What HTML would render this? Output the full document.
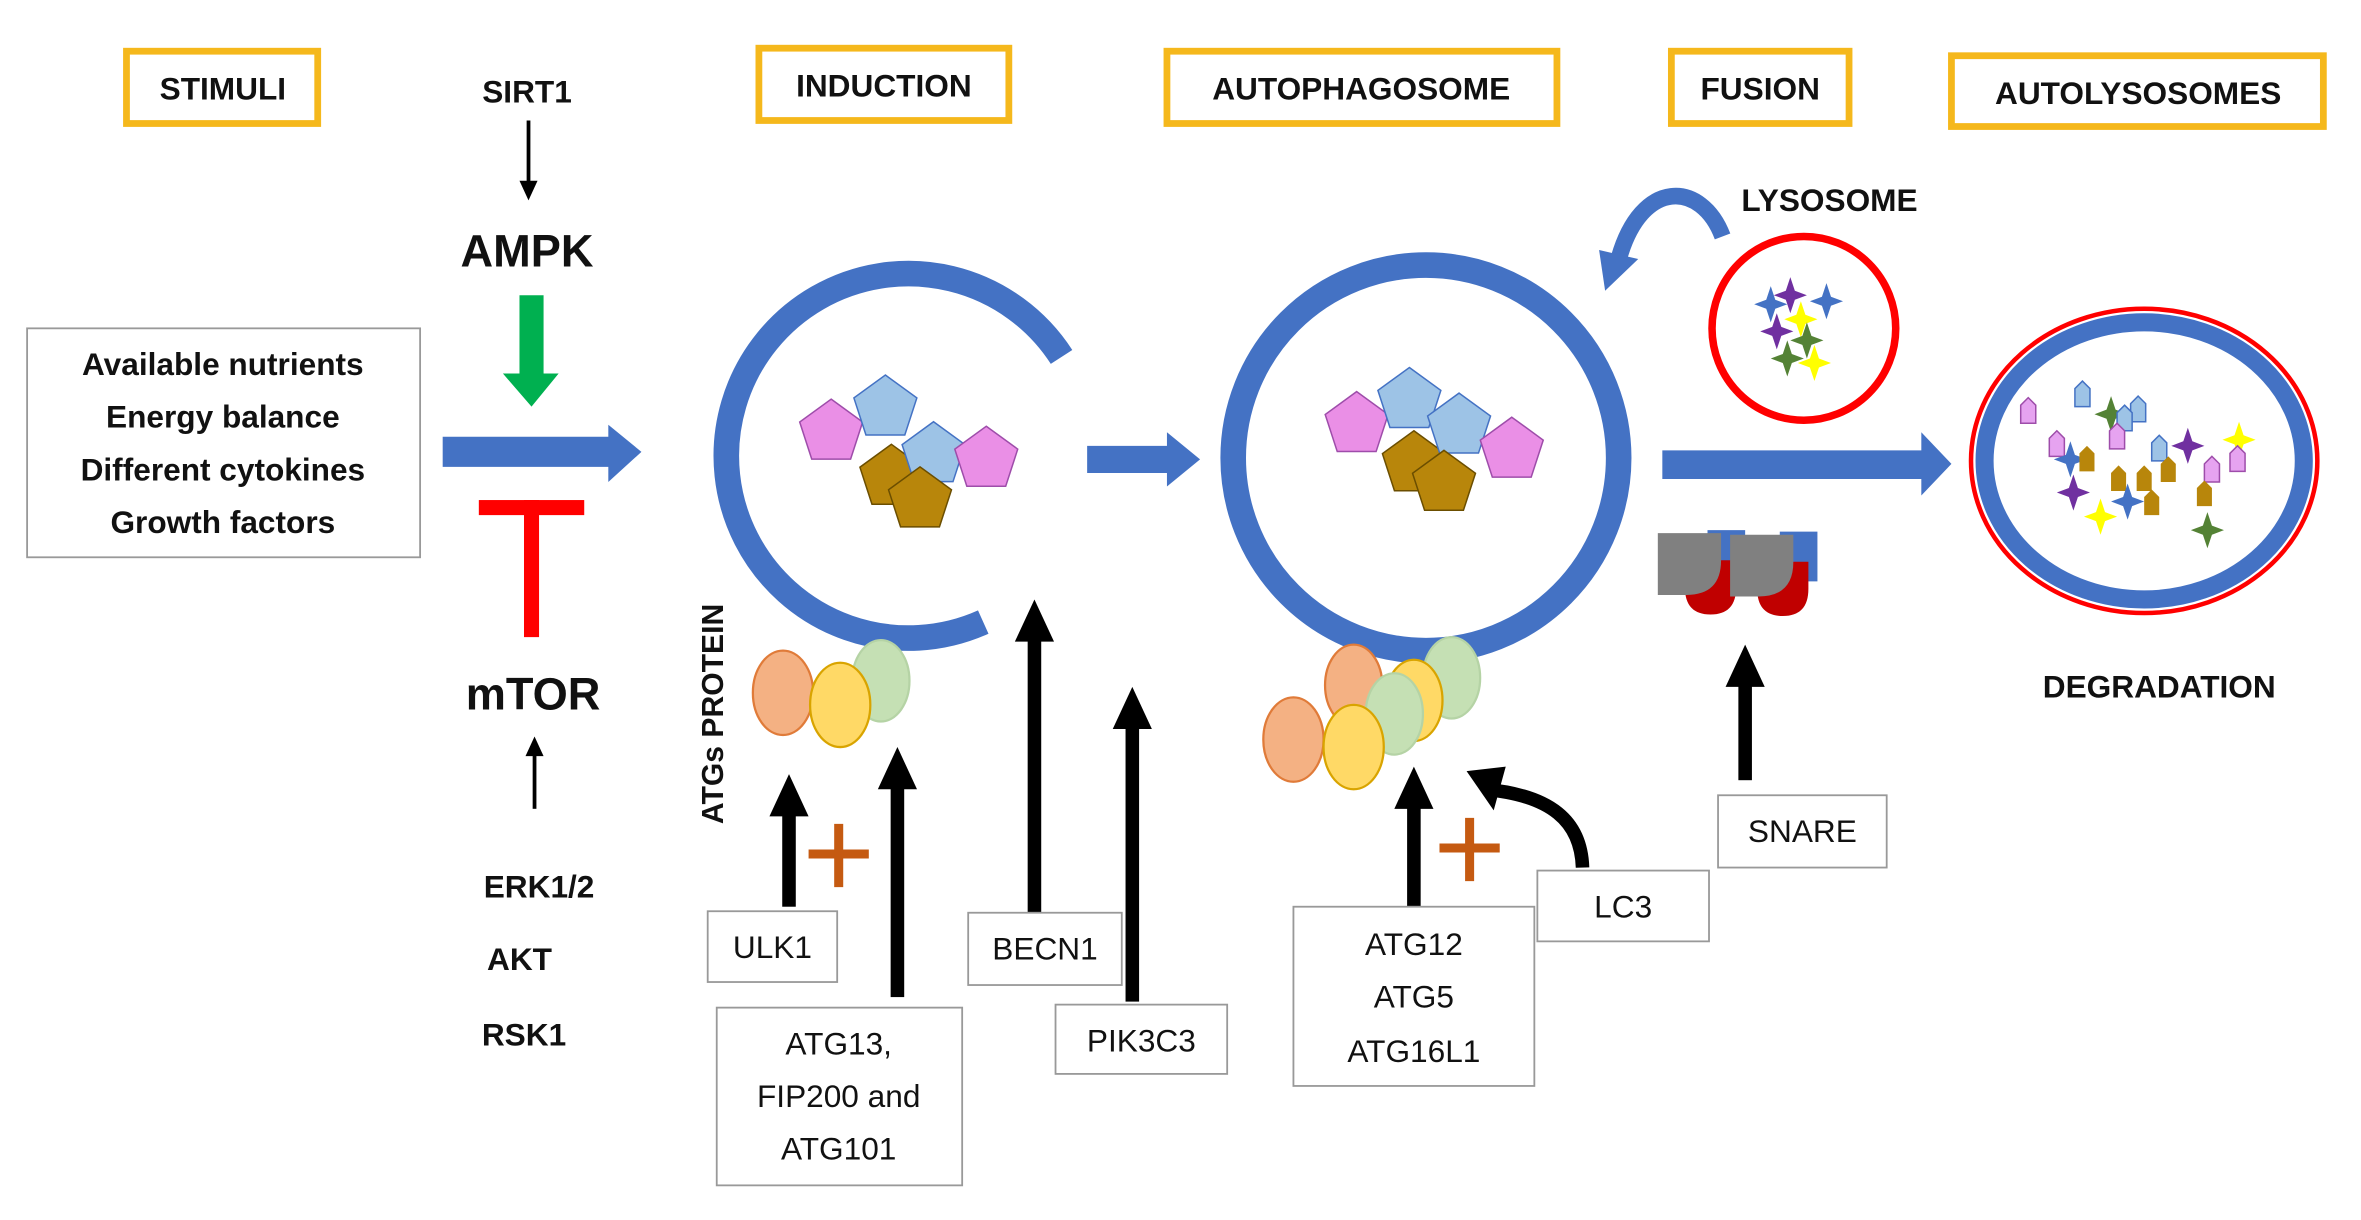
<!DOCTYPE html>
<html><head><meta charset="utf-8"><style>
html,body{margin:0;padding:0;background:#fff;}
svg{display:block;}
text{font-family:"Liberation Sans","DejaVu Sans",sans-serif;}
.b{font-weight:bold;}
</style></head><body>
<svg width="2361" height="1220" viewBox="0 0 1568 810" preserveAspectRatio="none" xmlns="http://www.w3.org/2000/svg">
<defs>
<polygon id="pg" points="0,-22 20.9,-6.8 12.9,17.8 -12.9,17.8 -20.9,-6.8" stroke-width="1"/>
<path id="st" d="M0,-12 L3,-3 L11,0 L3,3 L0,12 L-3,3 L-11,0 L-3,-3Z"/>
<path id="hs" d="M0,-9 L5,-4 L5,8 L-5,8 L-5,-4Z" stroke-width="1"/>
<g id="sn">
<path d="M1134,352 H1159 V385 H1148 Q1134,385 1134,365 Z" fill="#4472C4"/>
<path d="M1119,372 H1153 V390 Q1153,408 1136,408 Q1119,408 1119,390 Z" fill="#C00000"/>
<path d="M1101,354 H1143 V372 Q1143,395 1120,395 H1101 Z" fill="#808080"/>
</g>
</defs>
<rect width="1568" height="810" fill="#fff"/>

<g fill="none" stroke="#F5B81C" stroke-width="4.5">
<rect x="84" y="34" width="127" height="48"/>
<rect x="504" y="32" width="166" height="48"/>
<rect x="775" y="34" width="259" height="48"/>
<rect x="1110" y="34" width="118" height="48"/>
<rect x="1296" y="37" width="247" height="47"/>
</g>
<g class="b" font-size="21" text-anchor="middle" fill="#111">
<text x="148" y="66" class="b">STIMULI</text>
<text x="587" y="64" class="b">INDUCTION</text>
<text x="904" y="66" class="b">AUTOPHAGOSOME</text>
<text x="1169" y="66" class="b">FUSION</text>
<text x="1420" y="69" class="b">AUTOLYSOSOMES</text>
<text x="350" y="68" class="b">SIRT1</text>
<text x="350" y="177" class="b" font-size="30">AMPK</text>
<text x="354" y="471" class="b" font-size="30">mTOR</text>
<text x="358" y="596" class="b">ERK1/2</text>
<text x="345" y="644" class="b">AKT</text>
<text x="348" y="694" class="b">RSK1</text>
<text x="1215" y="140" class="b">LYSOSOME</text>
<text x="1434" y="463" class="b">DEGRADATION</text>
</g>

<line x1="351" y1="80" x2="351" y2="124" stroke="#000" stroke-width="2.5"/>
<polygon points="345,120 357,120 351,133" fill="#000"/>
<polygon points="345,196 361,196 361,248 371,248 353,270 334,248 345,248" fill="#00B050"/>
<polygon points="294,290 404,290 404,282 426,300 404,320 404,310 294,310" fill="#4472C4"/>
<rect x="318" y="332" width="70" height="10" fill="#FF0000"/>
<rect x="348" y="332" width="10" height="91" fill="#FF0000"/>
<line x1="355" y1="537" x2="355" y2="498" stroke="#000" stroke-width="2.5"/>
<polygon points="349,502 361,502 355,489" fill="#000"/>

<rect x="18" y="218" width="261" height="152" fill="#fff" stroke="#999" stroke-width="1.2"/>
<g class="b" font-size="21" text-anchor="middle" fill="#111">
<text x="148" y="249" class="b">Available nutrients</text>
<text x="148" y="284" class="b">Energy balance</text>
<text x="148" y="319" class="b">Different cytokines</text>
<text x="148" y="354" class="b">Growth factors</text>
</g>

<path d="M705,237 A121,121 0 1 0 653,413" fill="none" stroke="#4472C4" stroke-width="17"/>
<g stroke-width="1">
<use href="#pg" x="552" y="287" fill="#EA8FE6" stroke="#9E4DAA"/>
<use href="#pg" x="588" y="271" fill="#9DC3E6" stroke="#4472C4"/>
<use href="#pg" x="592" y="317" fill="#B8860B" stroke="#6b4e00"/>
<use href="#pg" x="620" y="302" fill="#9DC3E6" stroke="#4472C4"/>
<use href="#pg" x="611" y="332" fill="#B8860B" stroke="#6b4e00"/>
<use href="#pg" x="655" y="305" fill="#EA8FE6" stroke="#9E4DAA"/>
</g>
<polygon points="722,296 775,296 775,287 797,305 775,323 775,314 722,314" fill="#4472C4"/>

<text transform="translate(480,474) rotate(-90)" text-anchor="middle" font-size="20" class="b" fill="#111">ATGs PROTEIN</text>
<ellipse cx="585" cy="452" rx="19" ry="27" fill="#C5E0B4" stroke="#B5D3A5" stroke-width="1.5"/>
<ellipse cx="520" cy="460" rx="20" ry="28" fill="#F4B183" stroke="#E07B39" stroke-width="1.5"/>
<ellipse cx="558" cy="468" rx="20" ry="28" fill="#FFD966" stroke="#D9A400" stroke-width="1.5"/>

<g fill="#000">
<rect x="519.5" y="540" width="9" height="62"/><polygon points="511,542 537,542 524,514"/>
<rect x="591.5" y="522" width="9" height="140"/><polygon points="583,524 609,524 596,496"/>
<rect x="682.5" y="424" width="9" height="182"/><polygon points="674,426 700,426 687,398"/>
<rect x="747.5" y="482" width="9" height="183"/><polygon points="739,484 765,484 752,456"/>
<rect x="934.5" y="535" width="9" height="67"/><polygon points="926,537 952,537 939,509"/>
<rect x="1154.5" y="454" width="9" height="64"/><polygon points="1146,456 1172,456 1159,428"/>
</g>
<path d="M1051,576 C1050,545 1030,528 986,524" fill="none" stroke="#000" stroke-width="9"/>
<polygon points="974,512 1000,509 992,538" fill="#000"/>
<g stroke="#C55A11" stroke-width="6">
<line x1="537" y1="567" x2="577" y2="567"/><line x1="557" y1="547" x2="557" y2="589"/>
<line x1="956" y1="563" x2="996" y2="563"/><line x1="976" y1="543" x2="976" y2="585"/>
</g>

<g fill="#fff" stroke="#999" stroke-width="1.2">
<rect x="470" y="605" width="86" height="47"/>
<rect x="476" y="669" width="163" height="118"/>
<rect x="643" y="606" width="102" height="48"/>
<rect x="701" y="667" width="114" height="46"/>
<rect x="859" y="602" width="160" height="119"/>
<rect x="1021" y="578" width="114" height="47"/>
<rect x="1141" y="528" width="112" height="48"/>
</g>
<g font-size="21" text-anchor="middle" fill="#111">
<text x="513" y="636">ULK1</text>
<text x="557" y="700">ATG13,</text>
<text x="557" y="735">FIP200 and</text>
<text x="557" y="770">ATG101</text>
<text x="694" y="637">BECN1</text>
<text x="758" y="698">PIK3C3</text>
<text x="939" y="634">ATG12</text>
<text x="939" y="669">ATG5</text>
<text x="939" y="705">ATG16L1</text>
<text x="1078" y="609">LC3</text>
<text x="1197" y="559">SNARE</text>
</g>

<circle cx="947" cy="304" r="128" fill="none" stroke="#4472C4" stroke-width="17"/>
<g>
<use href="#pg" x="901" y="282" fill="#EA8FE6" stroke="#9E4DAA"/>
<use href="#pg" x="936" y="266" fill="#9DC3E6" stroke="#4472C4"/>
<use href="#pg" x="939" y="308" fill="#B8860B" stroke="#6b4e00"/>
<use href="#pg" x="969" y="283" fill="#9DC3E6" stroke="#4472C4"/>
<use href="#pg" x="959" y="321" fill="#B8860B" stroke="#6b4e00"/>
<use href="#pg" x="1004" y="299" fill="#EA8FE6" stroke="#9E4DAA"/>
</g>
<g stroke-width="1.5">
<ellipse cx="964" cy="450" rx="19" ry="27" fill="#C5E0B4" stroke="#B5D3A5"/>
<ellipse cx="899" cy="455" rx="19" ry="27" fill="#F4B183" stroke="#E07B39"/>
<ellipse cx="939" cy="465" rx="19" ry="27" fill="#FFD966" stroke="#D9A400"/>
<ellipse cx="926" cy="474" rx="19" ry="27" fill="#C5E0B4" stroke="#B5D3A5"/>
<ellipse cx="859" cy="491" rx="20" ry="28" fill="#F4B183" stroke="#E07B39"/>
<ellipse cx="899" cy="496" rx="20" ry="28" fill="#FFD966" stroke="#D9A400"/>
</g>

<path d="M1144,157 C1130,120 1090,118 1075,172" fill="none" stroke="#4472C4" stroke-width="11"/>
<polygon points="1062,166 1088,172 1066,193" fill="#4472C4"/>
<circle cx="1198" cy="218" r="61" fill="#fff" stroke="#FF0000" stroke-width="5"/>
<use href="#st" x="1189" y="196" fill="#7030A0"/>
<use href="#st" x="1176" y="202" fill="#4472C4"/>
<use href="#st" x="1213" y="200" fill="#4472C4"/>
<use href="#st" x="1196" y="212" fill="#FFFF00"/>
<use href="#st" x="1180" y="220" fill="#7030A0"/>
<use href="#st" x="1200" y="226" fill="#548235"/>
<use href="#st" x="1187" y="238" fill="#548235"/>
<use href="#st" x="1205" y="241" fill="#FFFF00"/>

<polygon points="1104,299 1276,299 1276,287 1296,308 1276,329 1276,318 1104,318" fill="#4472C4"/>

<use href="#sn"/>
<use href="#sn" x="48" y="1"/>

<ellipse cx="1424" cy="306" rx="115" ry="101" fill="#fff" stroke="#FF0000" stroke-width="3"/>
<ellipse cx="1424" cy="306" rx="106" ry="92" fill="#fff" stroke="#4472C4" stroke-width="12"/>
<g>
<use href="#hs" x="1347" y="273" fill="#E6A3F0" stroke="#9E4DAA"/>
<use href="#hs" x="1383" y="262" fill="#9DC3E6" stroke="#4472C4"/>
<use href="#st" x="1402" y="275" fill="#548235"/>
<use href="#hs" x="1420" y="272" fill="#9DC3E6" stroke="#4472C4"/>
<use href="#hs" x="1411" y="278" fill="#9DC3E6" stroke="#4472C4"/>
<use href="#hs" x="1366" y="295" fill="#E6A3F0" stroke="#9E4DAA"/>
<use href="#st" x="1375" y="305" fill="#4472C4"/>
<use href="#hs" x="1386" y="305" fill="#B8860B"/>
<use href="#hs" x="1406" y="290" fill="#E6A3F0" stroke="#9E4DAA"/>
<use href="#st" x="1453" y="296" fill="#7030A0"/>
<use href="#hs" x="1434" y="298" fill="#9DC3E6" stroke="#4472C4"/>
<use href="#st" x="1487" y="292" fill="#FFFF00"/>
<use href="#hs" x="1486" y="305" fill="#E6A3F0" stroke="#9E4DAA"/>
<use href="#hs" x="1469" y="312" fill="#E6A3F0" stroke="#9E4DAA"/>
<use href="#hs" x="1407" y="318" fill="#B8860B"/>
<use href="#hs" x="1424" y="318" fill="#B8860B"/>
<use href="#hs" x="1440" y="312" fill="#B8860B"/>
<use href="#st" x="1377" y="327" fill="#7030A0"/>
<use href="#st" x="1413" y="333" fill="#4472C4"/>
<use href="#hs" x="1429" y="334" fill="#B8860B"/>
<use href="#st" x="1395" y="343" fill="#FFFF00"/>
<use href="#hs" x="1464" y="328" fill="#B8860B"/>
<use href="#st" x="1466" y="352" fill="#548235"/>
</g>
</svg>
</body></html>
